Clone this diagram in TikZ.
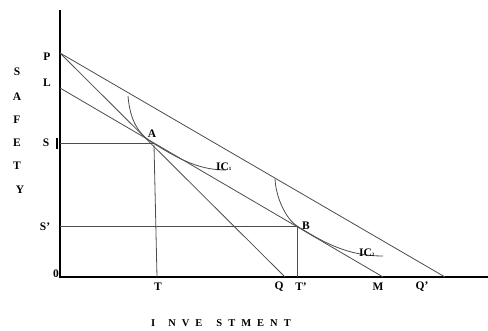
\documentclass[tikz,border=0pt]{standalone}
\usepackage{fontspec}
\setmainfont{Liberation Serif}
\begin{document}
\begin{tikzpicture}[x=1pt,y=-1pt,
  axis/.style={black,line width=1.1pt},
  ln/.style={draw=black!70,line width=0.8pt},
  lbl/.style={font=\fontsize{11.5}{11.5}\selectfont\bfseries,inner sep=0pt}]
\useasboundingbox (0,0) rectangle (488,330);
% key points
\coordinate (O) at (60,277);
\coordinate (Ytop) at (60,10);
\coordinate (Xend) at (488,277);
\coordinate (Pp) at (60,53);
\coordinate (Lp) at (60,88);
\coordinate (Sp) at (60,143);
\coordinate (S2p) at (60,226);
\coordinate (A) at (153,143);
\coordinate (B) at (297,226);
\coordinate (Tp) at (157,277);
\coordinate (T2p) at (297,277);
\coordinate (Qp) at (285,277);
\coordinate (Mp) at (383,277);
\coordinate (Q2p) at (445,277);
\coordinate (Ta) at (154,145);
\coordinate (SbarT) at (57,138);
\coordinate (SbarB) at (57,149);
% axes
\draw[axis] (Ytop) -- (O) -- (Xend);
% budget lines
\draw[ln] (Pp) -- (Q2p);
\draw[ln] (Pp) -- (Qp);
\draw[ln] (Lp) -- (Mp);
% guide lines
\draw[ln] (Sp) -- (A);
\draw[ln] (Ta) -- (Tp);
\draw[ln] (S2p) -- (B);
\draw[ln] (B) -- (T2p);
\draw[black,line width=1.4pt] (SbarT) -- (SbarB);
% indifference curves
\coordinate (IC1s) at (128,96);
\coordinate (IC1e) at (226,170);
\coordinate (IC2s) at (275,179);
\coordinate (IC2e) at (383,256);
\draw[ln] (IC1s) .. controls (130,120) and (138,134) .. (A)
  .. controls (180,160) and (200,170) .. (IC1e);
\draw[ln] (IC2s) .. controls (276,198) and (286,219) .. (B)
  .. controls (320,240) and (345,256) .. (IC2e);
% labels
\node[lbl] (lP) at (47,57) {P};
\node[lbl] (lL) at (47,83) {L};
\node[lbl] (lS) at (46,143) {S};
\node[lbl] (lS2) at (45,227) {S'};
\node[lbl] (l0) at (56,274) {0};
\node[lbl] (lA) at (152,134) {A};
\node[lbl] (lB) at (306,226) {B};
\node[lbl] (lT) at (158,287) {T};
\node[lbl] (lQ) at (279,287) {Q};
\node[lbl] (lT2) at (301,287) {T'};
\node[lbl] (lM) at (378,287) {M};
\node[lbl] (lQ2) at (422,287) {Q'};
\node[lbl,anchor=west] (lIC1) at (216,167) {IC\raisebox{0pt}{\fontsize{5}{5}\selectfont 1}};
\node[lbl,anchor=west] (lIC2) at (359,253) {IC\raisebox{0pt}{\fontsize{5}{5}\selectfont 2}};
% vertical axis title
\node[lbl] (s1) at (17,72) {S};
\node[lbl] (s2) at (17,97) {A};
\node[lbl] (s3) at (17,120) {F};
\node[lbl] (s4) at (17,143) {E};
\node[lbl] (s5) at (17,166) {T};
\node[lbl] (s6) at (20,190) {Y};
% horizontal axis title
\node[lbl,anchor=west,font=\fontsize{10.5}{10.5}\selectfont\bfseries] (xt) at (151,323) {I\hspace{13pt}N\hspace{6pt}V\hspace{6pt}E\hspace{14pt}S\hspace{6pt}T\hspace{6pt}M\hspace{6pt}E\hspace{6pt}N\hspace{6pt}T};
\end{tikzpicture}
\end{document}
